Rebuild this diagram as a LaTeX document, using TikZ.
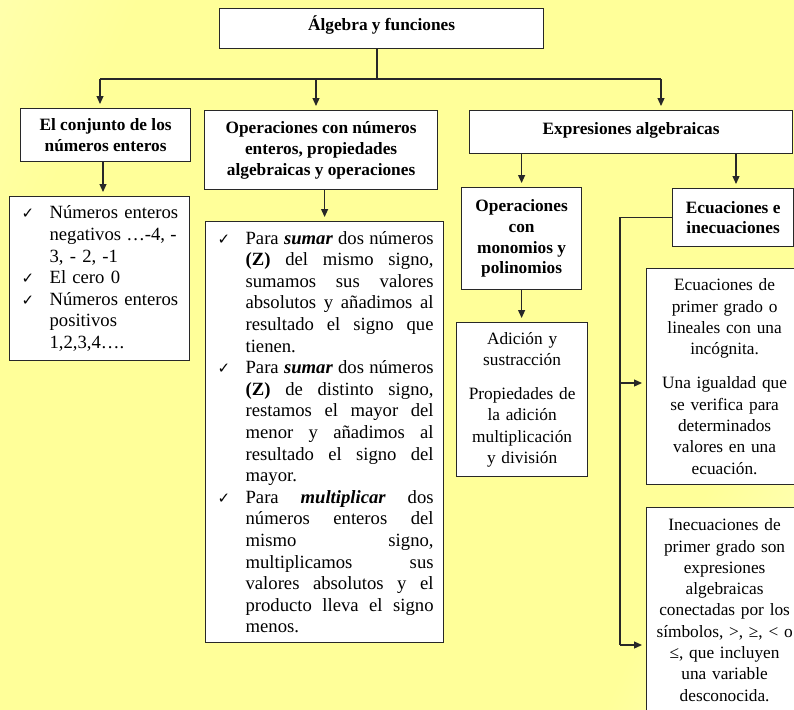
\documentclass[tikz,border=0pt]{standalone}
\usepackage{fontspec}
\setmainfont{Liberation Serif}
\newfontfamily\ckfont{DejaVu Sans}
\usetikzlibrary{arrows.meta}
\definecolor{bgY}{RGB}{255,255,153}
\definecolor{bgL}{RGB}{255,255,208}
\definecolor{edge}{RGB}{40,40,40}
\pgfdeclarehorizontalshading{bgshade}{100bp}{color(0bp)=(bgL); color(25bp)=(bgY); color(72bp)=(bgY); color(88bp)=(bgL); color(100bp)=(bgL)}
\newcommand\ckm{\makebox[40pt][l]{\hspace*{12pt}{\ckfont\fontsize{15}{12}\selectfont ✓}}}
\newcommand\nock{\hspace*{40pt}}
\newcommand\jl[2][188pt]{{\spaceskip=0.25em plus 1fil minus 0.1em\relax\hbox to #1{#2}}}
\begin{document}
\begin{tikzpicture}[x=1pt,y=-1pt,
  box/.style={draw=edge, line width=1.2pt, fill=white, inner sep=0pt, anchor=north west},
  hdr/.style={box, font=\bfseries\fontsize{17.3}{20.8}\selectfont, align=center},
  body/.style={box, font=\fontsize{18.67}{21.6}\selectfont},
  bodys/.style={box, font=\fontsize{17.3}{21.3}\selectfont},
  con/.style={draw=edge, line width=1.2pt},
  arr/.style={con, -{Triangle[length=8pt,width=7pt]}, shorten >=4pt}]
\useasboundingbox (0,0) rectangle (794,709);
\clip (0,0) rectangle (794,709);
\shade[shading=bgshade, shading angle=-25] (0,0) rectangle (794,709);

\node[hdr, minimum width=324pt, minimum height=40pt, text depth=11pt] (A) at (219,8) {Álgebra y funciones};
\node[hdr, minimum width=170pt, minimum height=53pt] (B) at (20,108) {El conjunto de los\\números enteros};
\node[hdr, minimum width=233pt, minimum height=79pt] (C) at (204,110) {Operaciones con números\\enteros, propiedades\\algebraicas y operaciones};
\node[hdr, minimum width=323pt, minimum height=43pt, text depth=8pt] (D) at (469,110) {Expresiones algebraicas};
\node[hdr, minimum width=120pt, minimum height=102pt] (G) at (461,187) {Operaciones\\con\\monomios y\\polinomios};
\node[hdr, minimum width=121pt, minimum height=58pt] (H) at (672,188) {Ecuaciones e\\inecuaciones};

\node[body, minimum width=180pt, minimum height=164pt, text width=180pt, align=left] (E) at (9,196) {%
\ckm Números enteros\\
\nock\jl[127pt]{negativos …-4, -}\\
\nock 3, - 2, -1\\
\ckm El cero 0\\
\ckm Números enteros\\
\nock positivos\\
\nock 1,2,3,4….};

\node[body, minimum width=238pt, minimum height=421pt, text width=238pt, align=left] (F) at (205,221) {%
\ckm\jl{Para \textbf{\textit{sumar}} dos números}\\
\nock\jl{\textbf{(Z)} del mismo signo,}\\
\nock\jl{sumamos sus valores}\\
\nock\jl{absolutos y añadimos al}\\
\nock\jl{resultado el signo que}\\
\nock tienen.\\
\ckm\jl{Para \textbf{\textit{sumar}} dos números}\\
\nock\jl{\textbf{(Z)} de distinto signo,}\\
\nock\jl{restamos el mayor del}\\
\nock\jl{menor y añadimos al}\\
\nock\jl{resultado el signo del}\\
\nock mayor.\\
\ckm\jl{Para \textbf{\textit{multiplicar}} dos}\\
\nock\jl{números enteros del}\\
\nock\jl{mismo signo,}\\
\nock\jl{multiplicamos sus}\\
\nock\jl{valores absolutos y el}\\
\nock\jl{producto lleva el signo}\\
\nock menos.};

\node[bodys, minimum width=131pt, minimum height=154pt, text width=131pt, align=center] (I) at (456,322) {Adición y\\sustracción\\[13pt]Propiedades de\\la adición\\multiplicación\\y división};

\node[bodys, minimum width=156pt, minimum height=216pt, text width=156pt, align=center] (J) at (646,268) {Ecuaciones de\\primer grado o\\lineales con una\\incógnita.\\[13pt]Una igualdad que\\se verifica para\\determinados\\valores en una\\ecuación.};

\node[bodys, minimum width=156pt, minimum height=205pt, text width=156pt, align=center] (K) at (646,507) {Inecuaciones de\\primer grado son\\expresiones\\algebraicas\\conectadas por los\\símbolos, >, ≥, < o\\≤, que incluyen\\una variable\\desconocida.};

\coordinate (hub) at (377,79);
\coordinate (jB) at (100,79);
\coordinate (jC) at (316,79);
\coordinate (jD) at (661,79);
\coordinate (xBE) at (103,0);
\coordinate (xDH) at (736,0);
\coordinate (b1) at (620,383);
\coordinate (b2) at (620,645);

\draw[con] (hub |- A.south) -- (hub);
\draw[con] (jB) -- (jD);
\draw[arr] (jB) -- (jB |- B.north);
\draw[arr] (jC) -- (jC |- C.north);
\draw[arr] (jD) -- (jD |- D.north);
\draw[arr] (xBE |- B.south) -- (xBE |- E.north);
\draw[arr] (F.north |- C.south) -- (F.north);
\draw[arr] (G.north |- D.south) -- (G.north);
\draw[arr] (xDH |- D.south) -- (xDH |- H.north);
\draw[arr] (G.south) -- (G.south |- I.north);
\draw[con] (H.west) -| (b2);
\draw[arr] (b1) -- (b1 -| J.west);
\draw[arr] (b2) -- (b2 -| K.west);
\end{tikzpicture}
\end{document}
